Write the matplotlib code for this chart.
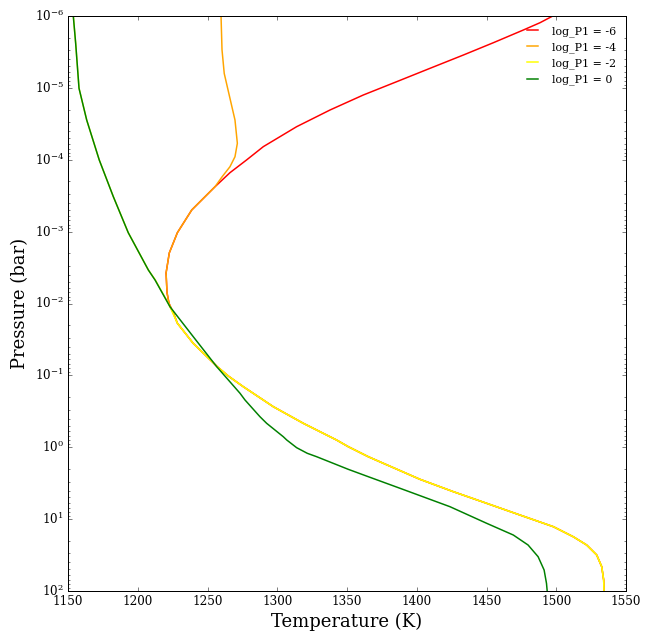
import numpy as np
import matplotlib
matplotlib.use("Agg")
import matplotlib.pyplot as plt

# values (log10 pressure in bar, temperature in K)
labels = ["log_P1 = -6", "log_P1 = -4", "log_P1 = -2", "log_P1 = 0"]
colors = ["red", "orange", "yellow", "green"]

# deep part shared by log_P1 = -6, -4, -2
deep_logp = [-1.724, -1.445, -1.121, -0.991, -0.842, -0.564, -0.333, -0.101, -0.008,
             0.132, 0.223, 0.446, 0.618, 0.780, 0.943, 1.105, 1.245, 1.360, 1.499,
             1.662, 1.847, 2.0]
deep_temp = [1228.5, 1239.8, 1257.0, 1264.9, 1275.7, 1297.2, 1318.7, 1342.5, 1350.9,
             1365.3, 1376.0, 1402.3, 1426.2, 1450.1, 1474.0, 1497.9, 1512.2, 1521.8,
             1529.0, 1532.6, 1534.0, 1534.2]

# log_P1 = -6, upper atmosphere
red_logp = [-6.0, -5.907, -5.805, -5.629, -5.457, -5.272, -5.086, -4.901, -4.692,
            -4.460, -4.182, -3.997, -3.820, -3.625, -3.301, -2.985, -2.703, -2.424,
            -2.146, -2.0]
red_temp = [1497.5, 1488.4, 1476.4, 1455.0, 1433.4, 1409.5, 1385.6, 1361.7, 1337.8,
            1313.9, 1290.0, 1278.0, 1266.1, 1255.4, 1238.7, 1228.4, 1222.6, 1220.3,
            1221.0, 1222.5]

# log_P1 = -4, upper atmosphere
orange_logp = [-6.0, -5.53, -5.2, -4.855, -4.553, -4.229, -4.042, -3.903, -3.764,
               -3.625, -3.301, -2.985, -2.703, -2.424, -2.146, -2.0]
orange_temp = [1259.7, 1260.4, 1262.0, 1266.1, 1269.7, 1271.4, 1269.7, 1266.1, 1260.5,
               1255.4, 1238.7, 1228.4, 1222.6, 1220.3, 1221.0, 1222.5]

# log_P1 = -2, upper atmosphere (hidden under the green line)
yellow_logp = [-6.0, -5.62, -4.994, -4.553, -3.997, -3.486, -2.985, -2.466, -2.327, -2.003]
yellow_temp = [1153.8, 1155.5, 1157.9, 1163.4, 1172.4, 1182.5, 1193.2, 1207.6, 1212.6, 1221.9]

# log_P1 = 0
green_logp = [-6.0, -5.62, -4.994, -4.553, -3.997, -3.486, -2.985, -2.466, -2.327,
              -1.955, -1.538, -1.121, -0.751, -0.657, -0.425, -0.333, -0.147, -0.101,
              0.006, 0.084, 0.132, 0.307, 0.410, 0.571, 0.827, 1.058, 1.221, 1.360,
              1.523, 1.708, 1.893, 2.0]
green_temp = [1153.8, 1155.5, 1157.9, 1163.4, 1172.4, 1182.5, 1193.2, 1207.6, 1212.4,
              1223.1, 1239.8, 1256.6, 1273.3, 1276.9, 1287.6, 1292.4, 1304.3, 1306.8,
              1313.9, 1321.5, 1328.3, 1350.9, 1365.3, 1388.0, 1423.8, 1450.1, 1469.2,
              1479.8, 1487.0, 1491.3, 1493.0, 1493.5]

plt.style.use("classic")
plt.rcParams["font.family"] = "serif"
plt.rcParams["mathtext.fontset"] = "dejavuserif"

fig = plt.figure(figsize=(651 / 72, 641 / 72), dpi=72)
fig.patch.set_facecolor("white")
ax = fig.add_axes([68 / 651, 50 / 641, 558 / 651, 575 / 641])

curves = [
    (red_temp + deep_temp, red_logp + deep_logp),
    (orange_temp + deep_temp, orange_logp + deep_logp),
    (yellow_temp + deep_temp, yellow_logp + deep_logp),
    (green_temp, green_logp),
]
for (t, lp), lab, c in zip(curves, labels, colors):
    ax.plot(t, 10 ** np.array(lp), color=c, lw=1.5, label=lab)

ax.set_yscale("log")
ax.set_ylim(1e2, 1e-6)
ax.set_xlim(1150, 1550)
ax.set_xlabel("Temperature (K)", fontsize=18)
ax.set_ylabel("Pressure (bar)", fontsize=18)
ax.tick_params(labelsize=12)
ax.legend(loc="upper right", frameon=False, fontsize=11,
          handlelength=1.6, handletextpad=1.0)

fig.savefig("out.png", dpi=72, facecolor="white")
